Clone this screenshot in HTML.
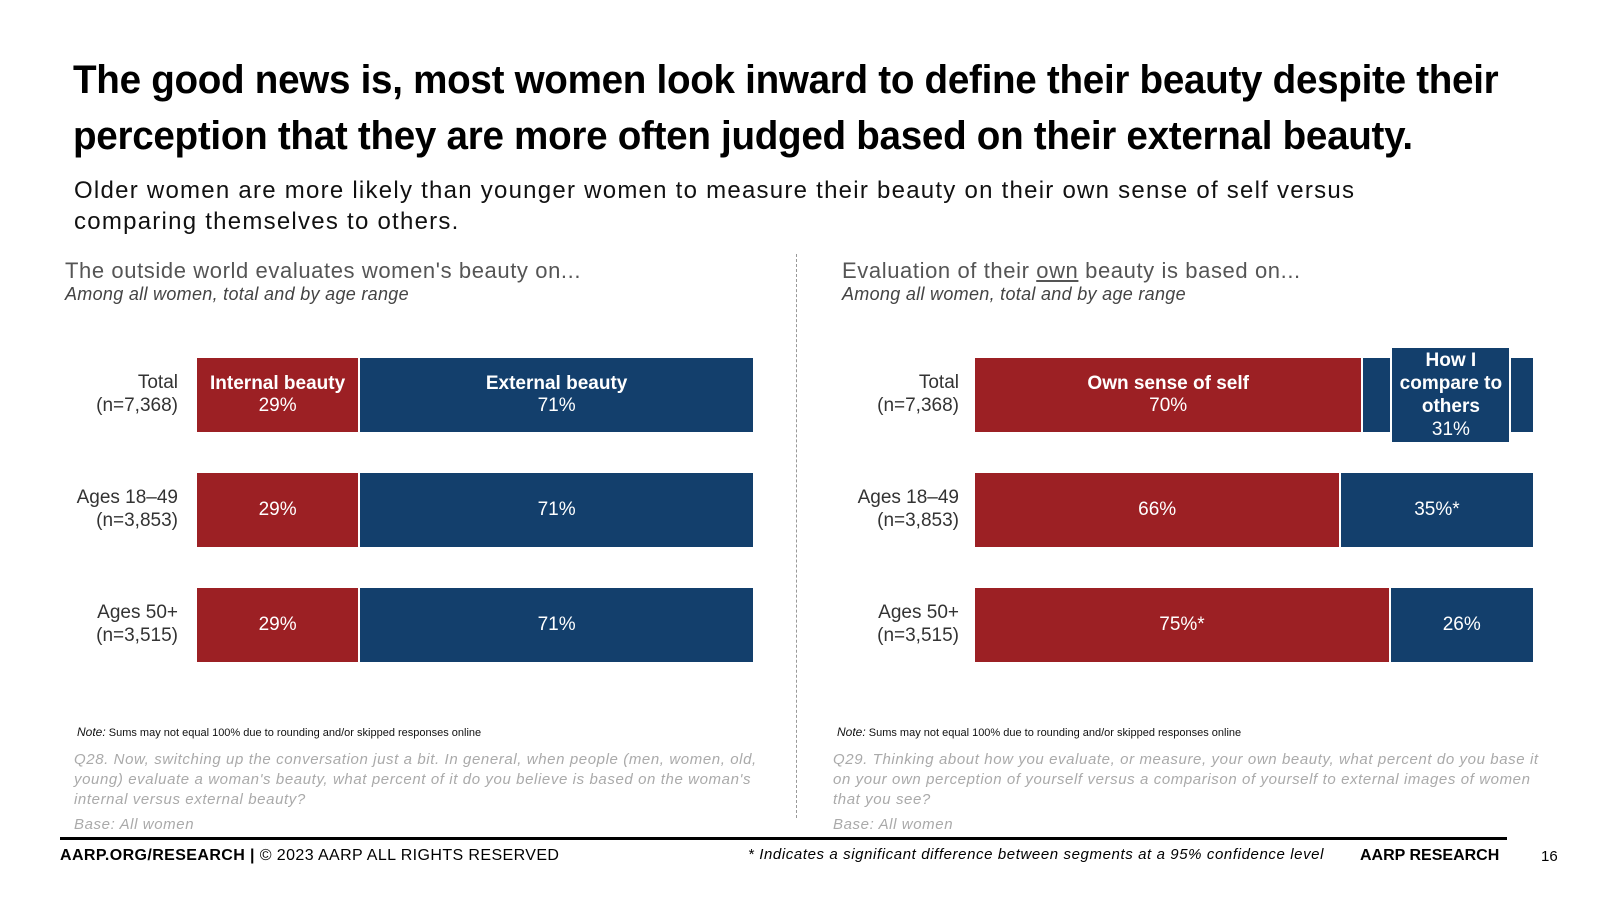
<!DOCTYPE html>
<html><head><meta charset="utf-8"><style>
body{margin:0;width:1600px;height:900px;background:#fff;font-family:"Liberation Sans",sans-serif;position:relative;overflow:hidden}
.a{position:absolute;white-space:nowrap}
.t{font-weight:bold;font-size:40px;color:#000;left:73px;letter-spacing:-0.3px;transform:scaleX(0.965);transform-origin:left top}
.sub{font-size:24px;color:#111;left:74px;letter-spacing:1.25px}
.h{font-size:22px;color:#555;letter-spacing:0.6px}
.hi{font-size:18px;color:#444;font-style:italic;letter-spacing:0.3px}
.cat{font-size:19px;color:#333;text-align:right;line-height:23px}
.bar{position:absolute;color:#fff;font-size:19px;text-align:center;display:flex;flex-direction:column;justify-content:center;line-height:22px}
.note{font-size:11px;color:#111}
.q{font-size:15px;color:#aaa;font-style:italic;line-height:20px;white-space:normal;letter-spacing:0.6px}
</style></head><body>
<div class="a t" style="top:58px">The good news is, most women look inward to define their beauty despite their</div>
<div class="a t" style="top:114px">perception that they are more often judged based on their external beauty.</div>
<div class="a sub" style="top:177px">Older women are more likely than younger women to measure their beauty on their own sense of self versus</div>
<div class="a sub" style="top:208px">comparing themselves to others.</div>
<div class="a h" style="left:65px;top:258px">The outside world evaluates women's beauty on...</div>
<div class="a hi" style="left:65px;top:284px">Among all women, total and by age range</div>
<div class="a h" style="left:842px;top:258px">Evaluation of their <u>own</u> beauty is based on...</div>
<div class="a hi" style="left:842px;top:284px">Among all women, total and by age range</div>
<div class="a" style="left:796px;top:254px;height:564px;border-left:1px dashed #999"></div>
<div id="charts"></div>
<div class="a note" style="left:77px;top:725px"><i style="font-size:12px">Note:</i> Sums may not equal 100% due to rounding and/or skipped responses online</div>
<div class="a note" style="left:837px;top:725px"><i style="font-size:12px">Note:</i> Sums may not equal 100% due to rounding and/or skipped responses online</div>
<div class="a q" style="left:74px;top:750px;width:705px">Q28. Now, switching up the conversation just a bit. In general, when people (men, women, old, young) evaluate a woman's beauty, what percent of it do you believe is based on the woman's internal versus external beauty?</div>
<div class="a q" style="left:74px;top:815px">Base: All women</div>
<div class="a q" style="left:833px;top:750px;width:715px">Q29. Thinking about how you evaluate, or measure, your own beauty, what percent do you base it on your own perception of yourself versus a comparison of yourself to external images of women that you see?</div>
<div class="a q" style="left:833px;top:815px">Base: All women</div>
<div class="a" style="left:60px;top:837px;width:1447px;height:3px;background:#000"></div>
<div class="a" style="left:60px;top:847px;font-size:16px;letter-spacing:0.4px"><b>AARP.ORG/RESEARCH |</b> © 2023 AARP ALL RIGHTS RESERVED</div>
<div class="a" style="left:748px;top:846px;font-size:15px;font-style:italic;letter-spacing:0.6px">* Indicates a significant difference between segments at a 95% confidence level</div>
<div class="a" style="left:1360px;top:847px;font-size:16px;font-weight:bold">AARP RESEARCH</div>
<div class="a" style="left:1541px;top:848px;font-size:15px">16</div>
<script>
const categories=["Total","Ages 18–49","Ages 50+"];
const catN=["(n=7,368)","(n=3,853)","(n=3,515)"];
const leftInternal=[29,29,29];
const leftExternal=[71,71,71];
const leftIntLabels=["29%","29%","29%"];
const leftExtLabels=["71%","71%","71%"];
const rightOwn=[70,66,75];
const rightCompare=[31,35,26];
const rightOwnLabels=["70%","66%","75%*"];
const rightCmpLabels=["31%","35%*","26%"];
const RED="#9c2024",BLUE="#133f6c";
const rowTop=[358,473,588];const barH=74;
const root=document.getElementById('charts');
function mk(cls,css,html){const d=document.createElement('div');d.className=cls;d.style.cssText=css;d.innerHTML=html;root.appendChild(d);return d;}
function chart(side,x0,scale,catRight,a,b,al,bl,an,bn){
 categories.forEach((c,i)=>{
  const y=rowTop[i];
  const lab=mk('a cat',`right:${1600-catRight}px;top:${y+barH/2-24}px`,c+'<br>'+catN[i]);
  
  
  const w1=a[i]*scale,w2=b[i]*scale;
  const first=i==0?'<b>'+an+'</b>':'';
  const r=mk('bar',`left:${x0}px;top:${y}px;width:${w1}px;height:${barH}px;background:${RED}`,first+'<span>'+al[i]+'</span>');
  
  
  const bx=x0+w1+2;
  if(side=='right'&&i==0){
   const bb=mk('bar',`left:${bx}px;top:${y}px;width:${w2-2}px;height:${barH}px;background:${BLUE}`,'');
   
   
   const box=mk('bar',`left:${bx+27}px;top:${y-10}px;width:117px;height:94px;background:${BLUE};border-left:2px solid #fff;border-right:2px solid #fff;line-height:23px`,'<b>How I<br>compare to<br>others</b><span>'+bl[i]+'</span>');
   
   
  } else {
   const second=i==0?'<b>'+bn+'</b>':'';
   const bb=mk('bar',`left:${bx}px;top:${y}px;width:${w2-2}px;height:${barH}px;background:${BLUE}`,second+'<span>'+bl[i]+'</span>');
   
   
  }
 });
}
chart('left',197,5.56,178,leftInternal,leftExternal,leftIntLabels,leftExtLabels,'Internal beauty','External beauty');
chart('right',975,5.52,959,rightOwn,rightCompare,rightOwnLabels,rightCmpLabels,'Own sense of self','');
</script>
</body></html>
